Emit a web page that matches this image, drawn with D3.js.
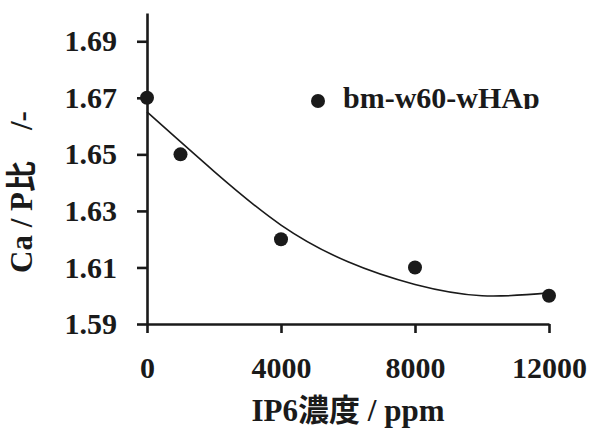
<!DOCTYPE html>
<html>
<head>
<meta charset="utf-8">
<script src="https://cdn.jsdelivr.net/npm/d3@7"></script>
<style>
  body { margin: 0; background: #fff; }
  text { font-family: "Liberation Serif", "Noto Sans CJK JP", serif; font-weight: bold; fill: #1a1a1a; }
</style>
</head>
<body>
<div id="chart"></div>
<script>
// measured points (IP6 ppm vs Ca/P)
var ip6 = [0, 1000, 4000, 8000, 12000];
var caP = [1.67, 1.65, 1.62, 1.61, 1.60];
// fitted curve
var fitX = [0, 2000, 4000, 6000, 8000, 10000, 12000];
var fitY = [1.665, 1.644, 1.625, 1.612, 1.604, 1.600, 1.601];
var xTicks = [0, 4000, 8000, 12000];
var yTicks = [1.59, 1.61, 1.63, 1.65, 1.67, 1.69];
var seriesName = "bm-w60-wHAp";

var W = 593, H = 432;
var svg = d3.select("#chart").append("svg").attr("width", W).attr("height", H);

var x = d3.scaleLinear().domain([0, 12000]).range([147, 549]);
var y = d3.scaleLinear().domain([1.59, 1.70]).range([324, 13]);

// y axis
var yAxis = svg.append("g")
  .attr("transform", "translate(147,0)")
  .call(d3.axisLeft(y).tickValues(yTicks).tickFormat(d3.format(".2f"))
    .tickSize(10).tickSizeOuter(0).tickPadding(20));
yAxis.selectAll("text").style("font-size", "30px").attr("fill", "#1a1a1a");

// x axis
var xAxis = svg.append("g")
  .attr("transform", "translate(0,324)")
  .call(d3.axisBottom(x).tickValues(xTicks).tickFormat(d3.format("d"))
    .tickSize(9).tickSizeOuter(0));
xAxis.selectAll("text").style("font-size", "30px").attr("fill", "#1a1a1a")
  .attr("dy", null).attr("y", 54);

svg.selectAll(".domain, .tick line").attr("stroke", "#1a1a1a").attr("stroke-width", 2.6);

// fit line
var line = d3.line()
  .x(function(d, i) { return x(fitX[i]); })
  .y(function(d) { return y(d); })
  .curve(d3.curveNatural);
svg.append("path")
  .attr("d", line(fitY))
  .attr("fill", "none")
  .attr("stroke", "#1a1a1a")
  .attr("stroke-width", 1.6);

// points
svg.selectAll("circle.pt").data(caP).enter().append("circle")
  .attr("class", "pt")
  .attr("cx", function(d, i) { return x(ip6[i]); })
  .attr("cy", function(d) { return y(d); })
  .attr("r", 7)
  .attr("fill", "#1a1a1a");

// legend (bottom of text is cut off in the original)
svg.append("clipPath").attr("id", "legclip")
  .append("rect").attr("x", 300).attr("y", 70).attr("width", 290).attr("height", 39);
svg.append("circle").attr("cx", 318).attr("cy", 101).attr("r", 7).attr("fill", "#1a1a1a");
svg.append("text")
  .attr("x", 343).attr("y", 108)
  .attr("clip-path", "url(#legclip)")
  .style("font-size", "30px")
  .text(seriesName);

// axis titles
svg.append("text")
  .attr("x", 348).attr("y", 421)
  .attr("text-anchor", "middle")
  .style("font-size", "31px")
  .text("IP6濃度 / ppm");

svg.append("text")
  .attr("transform", "translate(32,192) rotate(-90)")
  .attr("text-anchor", "middle")
  .style("font-size", "31px")
  .text("Ca / P比　/-");
</script>
</body>
</html>
